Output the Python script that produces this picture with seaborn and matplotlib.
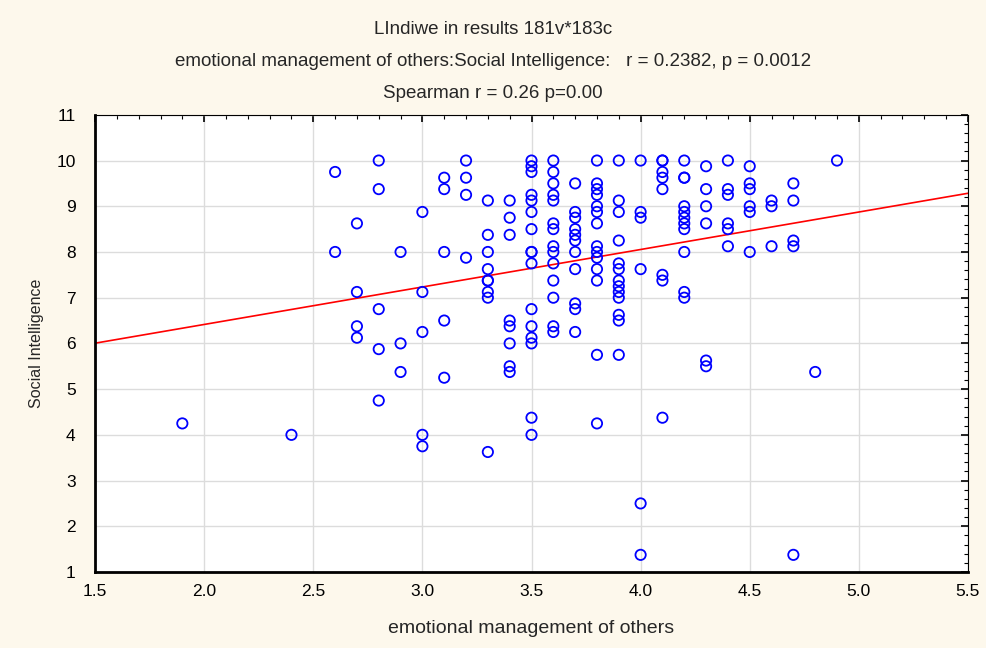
import pandas as pd
import seaborn as sns
from matplotlib import pyplot as plt
from matplotlib.ticker import MultipleLocator

# x levels of "emotional management of others" and the Social Intelligence scores seen at each
x_levels = [1.9, 2.4, 2.6, 2.7, 2.8, 2.9, 3.0, 3.1, 3.2, 3.3, 3.4, 3.5, 3.6,
            3.7, 3.8, 3.9, 4.0, 4.1, 4.2, 4.3, 4.4, 4.5, 4.6, 4.7, 4.8, 4.9]
y_at_level = [
    [4.25],
    [4.0],
    [9.75, 8.0],
    [8.625, 7.125, 6.375, 6.125],
    [10.0, 9.375, 6.75, 5.875, 4.75],
    [8.0, 6.0, 5.375],
    [8.875, 7.125, 6.25, 4.0, 3.75],
    [9.625, 9.375, 8.0, 6.5, 5.25],
    [10.0, 9.625, 9.25, 7.875],
    [9.125, 8.375, 8.0, 7.625, 7.375, 7.375, 7.125, 7.0, 3.625],
    [9.125, 8.75, 8.375, 6.5, 6.375, 6.0, 5.5, 5.375],
    [10.0, 9.875, 9.75, 9.25, 9.125, 8.875, 8.5, 8.0, 8.0, 7.75, 6.75,
     6.375, 6.125, 6.0, 4.375, 4.0],
    [10.0, 9.75, 9.5, 9.25, 9.125, 8.625, 8.5, 8.125, 8.0, 7.75, 7.375,
     7.0, 6.375, 6.25],
    [9.5, 8.875, 8.75, 8.5, 8.375, 8.25, 8.0, 7.625, 6.875, 6.75, 6.25],
    [10.0, 9.5, 9.375, 9.25, 9.0, 8.875, 8.625, 8.125, 8.0, 7.875, 7.625,
     7.375, 5.75, 4.25],
    [10.0, 9.125, 8.875, 8.25, 7.75, 7.625, 7.375, 7.25, 7.125, 7.0, 6.625,
     6.5, 5.75],
    [10.0, 8.875, 8.75, 7.625, 2.5, 1.375],
    [10.0, 10.0, 9.75, 9.625, 9.375, 7.5, 7.375, 4.375],
    [10.0, 9.625, 9.625, 9.0, 8.875, 8.75, 8.625, 8.5, 8.0, 7.125, 7.0],
    [9.875, 9.375, 9.0, 8.625, 5.625, 5.5],
    [10.0, 9.375, 9.25, 8.625, 8.5, 8.125],
    [9.875, 9.5, 9.375, 9.0, 8.875, 8.0],
    [9.125, 9.0, 8.125],
    [9.5, 9.125, 8.25, 8.125, 1.375],
    [5.375],
    [10.0],
]

title_lines = [
    "LIndiwe in results 181v*183c",
    "emotional management of others:Social Intelligence:   r = 0.2382, p = 0.0012",
    "Spearman r = 0.26 p=0.00",
]
x_label = "emotional management of others"
y_label = "Social Intelligence"

rows = []
for xv, ys in zip(x_levels, y_at_level):
    for yv in ys:
        rows.append((xv, yv))
df = pd.DataFrame(rows, columns=[x_label, y_label])

sns.set_style("white")
plt.rcParams['font.family'] = ['Liberation Sans', 'DejaVu Sans']

fig = plt.figure(figsize=(9.86, 6.48), dpi=100, facecolor='#fdf8ec')
ax = fig.add_axes([0.0964, 0.1173, 0.8853, 0.7055])
ax.set_facecolor('white')
ax.set_xlim(1.5, 5.5)
ax.set_ylim(1, 11)

# fitted line across the full x range
sns.regplot(data=df, x=x_label, y=y_label, ax=ax, scatter=False, ci=None,
            truncate=False, line_kws=dict(color='#ff0000', lw=1.2))
sns.scatterplot(data=df, x=x_label, y=y_label, ax=ax, marker='o', s=55,
                facecolor='none', edgecolor='#0000ff', linewidth=1.3, zorder=3)

ax.set_xlim(1.5, 5.5)
ax.set_ylim(1, 11)
ax.xaxis.set_major_locator(MultipleLocator(0.5))
ax.xaxis.set_minor_locator(MultipleLocator(0.1))
ax.yaxis.set_major_locator(MultipleLocator(1))
ax.yaxis.set_minor_locator(MultipleLocator(0.2))
ax.set_xticklabels([f"{v:.1f}" for v in ax.get_xticks()])
ax.grid(True, which='major', color='#dcdcdc', lw=1)
ax.set_axisbelow(True)
ax.tick_params(which='both', direction='in', top=True, right=True,
               labelsize=12.5, colors='black')
ax.tick_params(which='major', length=5, width=1.2)
ax.tick_params(which='minor', length=3, width=0.8)
ax.tick_params(axis='x', pad=9)
ax.tick_params(axis='y', pad=14)
for side in ['left', 'bottom']:
    ax.spines[side].set_linewidth(2)
    ax.spines[side].set_color('black')
for side in ['top', 'right']:
    ax.spines[side].set_linewidth(0.8)
    ax.spines[side].set_color('black')

ax.set_xlabel(x_label, fontsize=14, labelpad=15)
ax.set_ylabel(y_label, fontsize=11.5, labelpad=9)

for i, line in enumerate(title_lines):
    fig.text(0.5, 1 - (30 + i * 31.5) / 648, line, ha='center', va='center',
             fontsize=13.5)

plt.savefig('out.png', dpi=100, facecolor=fig.get_facecolor())
